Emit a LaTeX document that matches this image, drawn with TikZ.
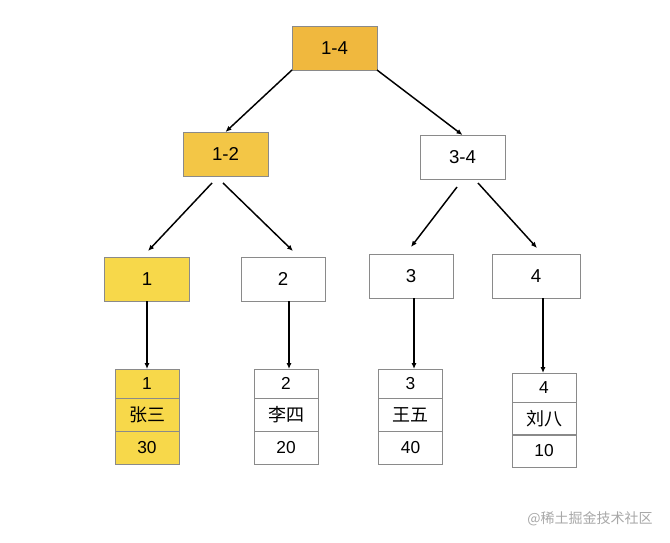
\documentclass[tikz,border=0pt]{standalone}
\usepackage{fontspec}
\setmainfont{Liberation Sans}
\newfontfamily\cjk{Noto Sans CJK SC}
\usetikzlibrary{arrows.meta,calc}
\definecolor{orangeA}{HTML}{F0B83E}
\definecolor{yellowB}{HTML}{F3C646}
\definecolor{yellowC}{HTML}{F7D84A}
\definecolor{bordergray}{HTML}{8A8A8A}
\definecolor{wmgray}{HTML}{A8A8A8}
\begin{document}
\begin{tikzpicture}[x=0.75pt,y=-0.75pt,
 box/.style={draw=bordergray,line width=0.7pt,inner sep=0pt,outer sep=0pt,minimum width=63.75pt,minimum height=33pt,font=\fontsize{14}{16}\selectfont},
 cell/.style={draw=bordergray,line width=0.7pt,inner sep=0pt,outer sep=0pt,minimum width=48pt,font=\fontsize{13}{15}\selectfont},
 rowA/.style={cell,minimum height=21.75pt},
 rowB/.style={cell,minimum height=24.75pt},
 hz/.style={font=\cjk\fontsize{13.5}{15}\selectfont},
 arr/.style={line width=1.1pt,-{Latex[length=4.5pt,width=3.8pt]}}]
\useasboundingbox (0,0) rectangle (670,542);
\fill[white] (0,0) rectangle (670,542);
% internal nodes
\node[box,fill=orangeA] (n14) at (334.5,48) {1-4};
\node[box,fill=yellowB] (n12) at (225.5,154) {1-2};
\node[box] (n34) at (462.5,157) {3-4};
\node[box,fill=yellowC] (n1) at (147,279) {1};
\node[box,minimum width=63pt] (n2) at (283,279) {2};
\node[box,minimum width=63pt] (n3) at (411,276) {3};
\node[box,minimum width=66pt] (n4) at (536,276) {4};
% leaf tables
\node[rowA,fill=yellowC] (a1) at (147,383.5) {1};
\node[rowB,fill=yellowC,hz] (a2) at (147,414.5) {张三};
\node[rowB,fill=yellowC] (a3) at (147,447.5) {30};
\node[rowA] (b1) at (286,383.5) {2};
\node[rowB,hz] (b2) at (286,414.5) {李四};
\node[rowB] (b3) at (286,447.5) {20};
\node[rowA] (c1) at (410.5,383.5) {3};
\node[rowB,hz] (c2) at (410.5,414.5) {王五};
\node[rowB] (c3) at (410.5,447.5) {40};
\node[rowA] (d1) at (544,387.5) {4};
\node[rowB,hz] (d2) at (544,418.5) {刘八};
\node[rowB] (d3) at (544,451) {10};
% connectors
\draw[arr] (n14.south west) -- (n12.north);
\draw[arr] (n14.south east) -- (n34.north);
\draw[arr] ($(n12.south)+(-13.5,7)$) -- ($(n1.north)+(1,-6)$);
\draw[arr] ($(n12.south)+(-2.5,7)$) -- ($(n2.north)+(10,-6)$);
\draw[arr] ($(n34.south)+(-5.5,8)$) -- ($(n3.north)+(0,-7)$);
\draw[arr] ($(n34.south)+(15.5,4)$) -- ($(n4.north)+(1,-6)$);
\draw[arr] (n1.south) -- (a1.north);
\draw[arr] ($(n2.south)+(6,0)$) -- ($(b1.north)+(3,0)$);
\draw[arr] ($(n3.south)+(3,0)$) -- ($(c1.north)+(3.5,0)$);
\draw[arr] ($(n4.south)+(7,0)$) -- ($(d1.north)+(-1,0)$);
% watermark
\node[text=wmgray,font=\cjk\fontsize{10.5}{12}\selectfont,inner sep=0pt] (wm) at (590,519) {@稀土掘金技术社区};
\end{tikzpicture}
\end{document}
